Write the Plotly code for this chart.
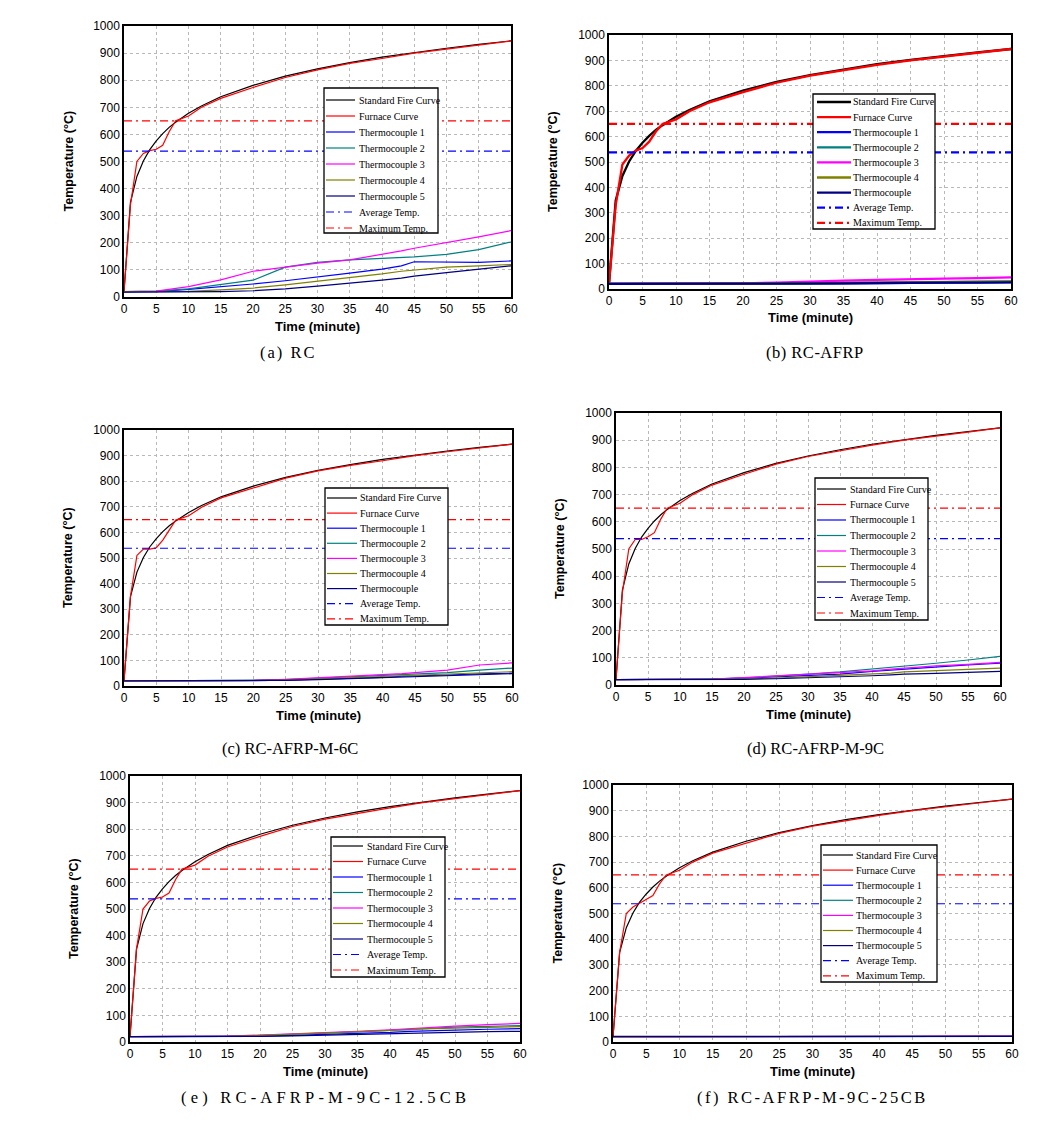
import plotly.graph_objects as go

# page body keeps an 8px margin, so the figure is sized to fit inside it
PAGE_W, PAGE_H = 1040, 1122
OFF = 8
W, H = PAGE_W - 2 * OFF, PAGE_H - 2 * OFF

# ---------------- data ----------------
std_t = [0, 1, 2, 3, 4, 5, 6, 7, 8, 9, 10, 12, 15, 20, 25, 30, 35, 40, 45, 50, 55, 60]
std_T = [20, 349, 445, 502, 544, 576, 603, 626, 645, 663, 678, 705, 739, 781, 815, 842, 865, 885, 902, 918, 932, 945]

fur_t = [0, 1, 2, 3, 4, 5, 6, 7, 8, 10, 12, 15, 20, 25, 30, 35, 40, 45, 50, 55, 60]
fur_a = [20, 340, 500, 530, 540, 545, 560, 610, 650, 668, 700, 733, 773, 810, 838, 862, 880, 900, 915, 930, 945]
fur_b = [20, 330, 490, 525, 545, 555, 580, 620, 650, 668, 700, 735, 775, 812, 840, 862, 882, 900, 916, 930, 945]
fur_c = [20, 350, 510, 535, 535, 540, 570, 610, 648, 665, 698, 735, 775, 812, 840, 862, 880, 900, 915, 930, 945]
fur_d = [20, 340, 500, 535, 535, 545, 560, 610, 650, 668, 700, 735, 775, 812, 840, 862, 882, 900, 916, 930, 945]
fur_e = [20, 350, 500, 530, 540, 545, 560, 610, 650, 665, 698, 733, 773, 810, 838, 860, 880, 900, 915, 930, 945]
fur_f = [20, 350, 500, 525, 540, 555, 570, 615, 650, 668, 700, 735, 775, 812, 840, 862, 882, 900, 916, 930, 945]

tc_t = [0, 5, 10, 15, 20, 25, 30, 35, 40, 43, 45, 50, 55, 60]

a_tc1 = [20, 20, 28, 37, 48, 60, 73, 88, 103, 115, 130, 128, 128, 133]
a_tc2 = [20, 22, 30, 45, 62, 110, 128, 137, 143, 146, 148, 157, 175, 203]
a_tc3 = [20, 22, 38, 63, 95, 110, 125, 137, 157, 170, 180, 200, 222, 245]
a_tc4 = [20, 20, 21, 26, 33, 45, 58, 72, 85, 95, 100, 110, 115, 120]
a_tc5 = [18, 18, 18, 20, 23, 30, 40, 50, 62, 70, 77, 90, 103, 115]

b_tc1 = [20, 20, 20, 20, 21, 21, 22, 22, 23, 24, 24, 25, 26, 27]
b_tc2 = [20, 20, 20, 20, 21, 22, 23, 24, 25, 26, 27, 28, 29, 30]
b_tc3 = [20, 20, 20, 20, 22, 25, 30, 33, 36, 38, 39, 41, 43, 46]
b_tc4 = [20, 20, 20, 20, 21, 22, 23, 24, 25, 26, 26, 27, 28, 29]
b_tc5 = [20, 20, 20, 20, 20, 21, 22, 22, 23, 24, 24, 25, 25, 26]

c_tc1 = [20, 20, 20, 20, 21, 23, 26, 30, 34, 38, 40, 43, 47, 50]
c_tc2 = [20, 20, 20, 20, 22, 25, 30, 35, 40, 44, 46, 52, 62, 70]
c_tc3 = [20, 20, 20, 20, 22, 26, 32, 37, 42, 48, 52, 62, 82, 90]
c_tc4 = [20, 20, 20, 20, 21, 23, 27, 31, 36, 40, 42, 46, 52, 56]
c_tc5 = [20, 20, 20, 20, 21, 22, 25, 29, 33, 37, 39, 42, 45, 48]

d_tc1 = [20, 20, 20, 22, 25, 30, 35, 40, 50, 55, 60, 67, 74, 80]
d_tc2 = [20, 20, 20, 22, 26, 32, 40, 48, 58, 64, 70, 80, 92, 105]
d_tc3 = [20, 20, 20, 22, 27, 33, 40, 45, 52, 58, 62, 70, 76, 83]
d_tc4 = [20, 20, 20, 20, 22, 25, 30, 34, 40, 44, 48, 52, 57, 62]
d_tc5 = [20, 20, 20, 20, 21, 23, 26, 30, 34, 37, 40, 43, 47, 50]

e_tc1 = [20, 20, 20, 20, 22, 25, 28, 32, 36, 40, 42, 45, 48, 50]
e_tc2 = [20, 20, 20, 21, 24, 28, 33, 38, 44, 48, 52, 56, 59, 62]
e_tc3 = [20, 20, 20, 22, 26, 30, 35, 40, 46, 50, 55, 60, 65, 70]
e_tc4 = [20, 20, 20, 21, 25, 29, 34, 38, 42, 46, 49, 52, 55, 58]
e_tc5 = [20, 20, 20, 20, 21, 23, 26, 29, 32, 34, 35, 37, 39, 40]

f_tc1 = [20, 20, 20, 20, 20, 21, 21, 21, 22, 22, 22, 22, 23, 23]
f_tc2 = [20, 20, 20, 20, 20, 20, 21, 21, 21, 21, 22, 22, 22, 22]
f_tc3 = [20, 20, 20, 20, 20, 21, 21, 21, 22, 22, 22, 23, 23, 23]
f_tc4 = [20, 20, 20, 20, 20, 20, 21, 21, 21, 21, 21, 22, 22, 22]
f_tc5 = [22, 22, 22, 22, 22, 22, 22, 22, 22, 22, 22, 22, 22, 22]

avg_temp = 538
max_temp = 650
ref_t = [0, 60]

names_full = ["Standard Fire Curve", "Furnace Curve", "Thermocouple 1", "Thermocouple 2",
              "Thermocouple 3", "Thermocouple 4", "Thermocouple 5", "Average Temp.", "Maximum Temp."]
names_short = names_full[:6] + ["Thermocouple"] + names_full[7:]
captions = ["(a) RC", "(b) RC-AFRP", "(c) RC-AFRP-M-6C", "(d) RC-AFRP-M-9C",
            "(e) RC-AFRP-M-9C-12.5CB", "(f) RC-AFRP-M-9C-25CB"]

# ---------------- styling ----------------
colors = ["#000000", "#ff0000", "#0000ff", "#008080", "#ff00ff", "#808000", "#000080", "#0000ff", "#ff0000"]
dashes = ["solid"] * 7 + ["8px,4px,2px,4px"] * 2

def px_x(p):
    return (p - OFF) / W

def px_y(p):
    return 1 - (p - OFF) / H

panels = [
    dict(fur=fur_a, tcs=[a_tc1, a_tc2, a_tc3, a_tc4, a_tc5], names=names_full, lw=1.2,
         plot=(124, 26, 511, 297), leg=(324, 88, 438, 233, 100, 16.0, 2, 31, 34),
         cap=(288, 352), capls=2.0),
    dict(fur=fur_b, tcs=[b_tc1, b_tc2, b_tc3, b_tc4, b_tc5], names=names_short, lw=2.3,
         plot=(609, 35, 1011, 289), leg=(813, 94, 935, 229, 102, 15.1, 4, 38, 39),
         cap=(815, 352), capls=0.5),
    dict(fur=fur_c, tcs=[c_tc1, c_tc2, c_tc3, c_tc4, c_tc5], names=names_short, lw=1.2,
         plot=(124, 430, 512, 686), leg=(325, 488, 448, 625, 498, 15.1, 2, 32, 34),
         cap=(290, 748), capls=0.0),
    dict(fur=fur_d, tcs=[d_tc1, d_tc2, d_tc3, d_tc4, d_tc5], names=names_full, lw=1.2,
         plot=(616, 413, 1000, 685), leg=(815, 478, 928, 620, 489, 15.5, 2, 31, 34),
         cap=(815, 748), capls=0.0),
    dict(fur=fur_e, tcs=[e_tc1, e_tc2, e_tc3, e_tc4, e_tc5], names=names_full, lw=1.2,
         plot=(130, 776, 520, 1042), leg=(331, 837, 445, 977, 846, 15.5, 2, 32, 35),
         cap=(325, 1097), capls=4.2),
    dict(fur=fur_f, tcs=[f_tc1, f_tc2, f_tc3, f_tc4, f_tc5], names=names_full, lw=1.2,
         plot=(613, 785, 1012, 1042), leg=(821, 845, 937, 982, 855, 15.1, 2, 32, 34),
         cap=(812, 1097), capls=2.5),
]

fig = go.Figure()
shapes = []
annotations = []
layout_axes = {}

for i, p in enumerate(panels, start=1):
    sfx = "" if i == 1 else str(i)
    xa, ya = "x" + sfx, "y" + sfx
    lw = p["lw"]
    series = [(std_t, std_T), (fur_t, p["fur"])] + [(tc_t, s) for s in p["tcs"]] + \
             [(ref_t, [avg_temp, avg_temp]), (ref_t, [max_temp, max_temp])]
    for k, (xs, ys) in enumerate(series):
        fig.add_trace(go.Scatter(x=xs, y=ys, mode="lines", name=p["names"][k],
                                 line=dict(color=colors[k], width=lw, dash=dashes[k]),
                                 xaxis=xa, yaxis=ya, showlegend=False))
    L, T, R, B = p["plot"]
    common = dict(showline=True, mirror=True, linecolor="black", linewidth=1.5,
                  showgrid=True, gridcolor="#b8b8b8", griddash="dot", gridwidth=1,
                  zeroline=False, ticks="", automargin=False,
                  tickfont=dict(family="Liberation Sans", size=12, color="black"))
    layout_axes["xaxis" + sfx] = dict(domain=[px_x(L), px_x(R)], range=[0, 60], dtick=5, tick0=0,
                                      anchor=ya, **common)
    layout_axes["yaxis" + sfx] = dict(domain=[px_y(B), px_y(T)], range=[0, 1000], dtick=100, tick0=0,
                                      anchor=xa, **common)
    # axis titles
    annotations.append(dict(text="<b>Time (minute)</b>", x=px_x((L + R) / 2), y=px_y(B + 29),
                            xref="paper", yref="paper", showarrow=False, xanchor="center", yanchor="middle",
                            font=dict(family="Liberation Sans", size=13, color="black")))
    annotations.append(dict(text="<b>Temperature (°C)</b>", x=px_x(L - 56), y=px_y((T + B) / 2),
                            xref="paper", yref="paper", showarrow=False, textangle=-90,
                            xanchor="center", yanchor="middle",
                            font=dict(family="Liberation Sans", size=12.5, color="black")))
    # caption
    cx, cy = p["cap"]
    annotations.append(dict(text='<span style="letter-spacing:%.1fpx">%s</span>' % (p["capls"], captions[i - 1]),
                            x=px_x(cx), y=px_y(cy), xref="paper", yref="paper",
                            showarrow=False, xanchor="center", yanchor="middle",
                            font=dict(family="Liberation Serif", size=16.5, color="black")))
    # legend box
    bl, bt, br, bb, first, step, s0, s1, tx = p["leg"]
    shapes.append(dict(type="rect", xref="paper", yref="paper", x0=px_x(bl), x1=px_x(br),
                       y0=px_y(bb), y1=px_y(bt), line=dict(color="black", width=1.3),
                       fillcolor="white", layer="above"))
    for k, name in enumerate(p["names"]):
        yy = first + k * step
        shapes.append(dict(type="line", xref="paper", yref="paper", x0=px_x(bl + s0), x1=px_x(bl + s1),
                           y0=px_y(yy), y1=px_y(yy), layer="above",
                           line=dict(color=colors[k], width=lw, dash=dashes[k])))
        annotations.append(dict(text=name, x=px_x(bl + tx), y=px_y(yy), xref="paper", yref="paper",
                                showarrow=False, xanchor="left", yanchor="middle", borderpad=0,
                                font=dict(family="Liberation Serif", size=10, color="black")))

fig.update_layout(width=W, height=H, margin=dict(l=0, r=0, t=0, b=0, autoexpand=False),
                  paper_bgcolor="white", plot_bgcolor="white", showlegend=False,
                  shapes=shapes, annotations=annotations, **layout_axes)

fig.write_html("out.html")
